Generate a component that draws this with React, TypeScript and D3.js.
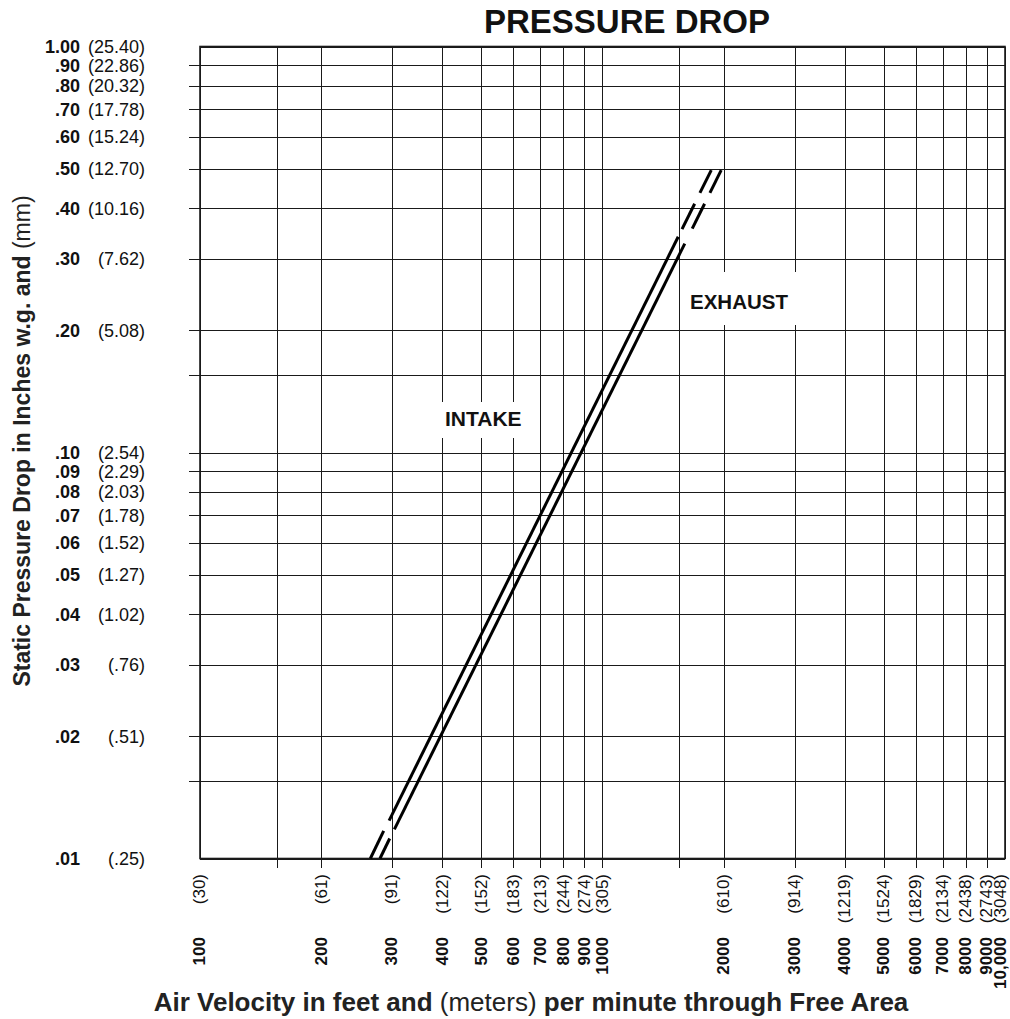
import React, { useEffect, useRef } from 'react';
import * as d3 from 'd3';

// x axis: air velocity, feet per minute, with metres per minute in brackets
const velocityTicks = [100, 200, 300, 400, 500, 600, 700, 800, 900, 1000, 2000, 3000, 4000, 5000, 6000, 7000, 8000, 9000, 10000];
const velocityLabels = ['100', '200', '300', '400', '500', '600', '700', '800', '900', '1000', '2000', '3000', '4000', '5000', '6000', '7000', '8000', '9000', '10,000'];
const meterLabels = ['(30)', '(61)', '(91)', '(122)', '(152)', '(183)', '(213)', '(244)', '(274)', '(305)', '(610)', '(914)', '(1219)', '(1524)', '(1829)', '(2134)', '(2438)', '(2743)', '(3048)'];
const velocityExtraGrid = [155, 1550];

// y axis: static pressure drop, inches w.g. with mm in brackets
const pressureTicks = [1, 0.9, 0.8, 0.7, 0.6, 0.5, 0.4, 0.3, 0.2, 0.1, 0.09, 0.08, 0.07, 0.06, 0.05, 0.04, 0.03, 0.02, 0.01];
const pressureLabels = ['1.00', '.90', '.80', '.70', '.60', '.50', '.40', '.30', '.20', '.10', '.09', '.08', '.07', '.06', '.05', '.04', '.03', '.02', '.01'];
const mmLabels = ['(25.40)', '(22.86)', '(20.32)', '(17.78)', '(15.24)', '(12.70)', '(10.16)', '(7.62)', '(5.08)', '(2.54)', '(2.29)', '(2.03)', '(1.78)', '(1.52)', '(1.27)', '(1.02)', '(.76)', '(.51)', '(.25)'];
const pressureExtraGrid = [0.155, 0.0155];

// curves, [velocity, pressure]
const intakeSolid: [number, number][] = [[295, 0.0124], [1542, 0.34]];
const intakeDashes: [number, number][][] = [
  [[265, 0.01], [286, 0.0117]],
  [[1576, 0.355], [1694, 0.41]],
  [[1746, 0.436], [1863, 0.496]],
];
const exhaustSolid: [number, number][] = [[304, 0.0118], [1601, 0.327]];
const exhaustDashes: [number, number][][] = [
  [[280, 0.01], [296, 0.0112]],
  [[1671, 0.356], [1793, 0.41]],
  [[1849, 0.436], [1972, 0.496]],
];

const FONT = "'Liberation Sans', Arial, Helvetica, sans-serif";

export default function App() {
  const svgRef = useRef<SVGSVGElement>(null);

  useEffect(() => {
    if (!svgRef.current) return;
    const width = 1010;
    const height = 1019;

    const svg = d3.select(svgRef.current);
    svg.selectAll('*').remove();
    svg.attr('width', width).attr('height', height);

    svg.append('rect').attr('width', width).attr('height', height).attr('fill', '#fff');

    const x = d3.scaleLog().domain([100, 10000]).range([200, 1005]);
    const y = d3.scaleLog().domain([0.01, 1]).range([858.5, 46.5]);
    const [x0, x1] = x.range();
    const [y0, y1] = y.range();

    const grid = svg.append('g').attr('stroke', '#1a1a1a').attr('stroke-width', 1).attr('shape-rendering', 'crispEdges');

    // vertical grid lines, ticks run below the frame
    [...velocityTicks, ...velocityExtraGrid].forEach(v => {
      const edge = v === 100 || v === 10000;
      grid.append('line')
        .attr('x1', Math.round(x(v)) + 0.5).attr('x2', Math.round(x(v)) + 0.5)
        .attr('y1', y1).attr('y2', edge ? y0 : y0 + 9);
    });

    // horizontal grid lines, ticks run left of the frame
    [...pressureTicks, ...pressureExtraGrid].forEach(p => {
      const edge = p === 1 || p === 0.01;
      grid.append('line')
        .attr('x1', edge ? x0 : x0 - 11).attr('x2', x1)
        .attr('y1', Math.round(y(p)) + 0.5).attr('y2', Math.round(y(p)) + 0.5);
    });

    // frame
    svg.append('rect')
      .attr('x', x0).attr('y', y1)
      .attr('width', x1 - x0).attr('height', y0 - y1)
      .attr('fill', 'none').attr('stroke', '#1a1a1a').attr('stroke-width', 1.6);

    // curves
    const line = d3.line<[number, number]>().x(d => x(d[0])).y(d => y(d[1]));
    const curves = svg.append('g').attr('fill', 'none').attr('stroke', '#000').attr('stroke-width', 3);
    [intakeSolid, exhaustSolid, ...intakeDashes, ...exhaustDashes].forEach(seg => {
      curves.append('path').attr('d', line(seg));
    });

    // curve labels on white patches
    svg.append('rect').attr('x', 438).attr('y', 402).attr('width', 92).attr('height', 36).attr('fill', '#fff');
    svg.append('rect').attr('x', 684).attr('y', 272).attr('width', 112).attr('height', 53).attr('fill', '#fff');
    svg.append('text').attr('x', 445).attr('y', 426).text('INTAKE')
      .style('font-family', FONT).style('font-weight', 'bold').style('font-size', '21px').attr('fill', '#111');
    svg.append('text').attr('x', 690).attr('y', 308.5).text('EXHAUST')
      .style('font-family', FONT).style('font-weight', 'bold').style('font-size', '20.5px').attr('fill', '#111');

    // y labels
    const yl = svg.append('g').style('font-family', FONT).style('font-size', '18px').attr('fill', '#111');
    pressureTicks.forEach((p, i) => {
      const ty = y(p) + 18 * 0.36;
      yl.append('text').attr('x', 80).attr('y', ty).attr('text-anchor', 'end')
        .style('font-weight', 'bold').text(pressureLabels[i]);
      yl.append('text').attr('x', 145).attr('y', ty).attr('text-anchor', 'end').text(mmLabels[i]);
    });

    // x labels, rotated; keep the last column inside the page
    const xfs = 17;
    const xl = svg.append('g').style('font-family', FONT).style('font-size', `${xfs}px`).attr('fill', '#111');
    velocityTicks.forEach((v, i) => {
      const tx = Math.min(x(v) + xfs * 0.32, width - 4);
      xl.append('text').attr('transform', `translate(${tx},874) rotate(-90)`)
        .attr('text-anchor', 'end').text(meterLabels[i]);
      xl.append('text').attr('transform', `translate(${tx},937) rotate(-90)`)
        .attr('text-anchor', 'end').style('font-weight', 'bold').text(velocityLabels[i]);
    });

    // titles
    svg.append('text').attr('x', 627).attr('y', 33).attr('text-anchor', 'middle')
      .style('font-family', FONT).style('font-weight', 'bold').style('font-size', '33px')
      .attr('fill', '#111').text('PRESSURE DROP');

    const xt = svg.append('text').attr('x', 531).attr('y', 1011).attr('text-anchor', 'middle')
      .style('font-family', FONT).style('font-size', '26px').attr('fill', '#222');
    xt.append('tspan').style('font-weight', 'bold').text('Air Velocity in feet and ');
    xt.append('tspan').text('(meters)');
    xt.append('tspan').style('font-weight', 'bold').text(' per minute through Free Area');

    const yt = svg.append('text').attr('transform', 'translate(30,441) rotate(-90)').attr('text-anchor', 'middle')
      .style('font-family', FONT).style('font-size', '23px').attr('fill', '#222');
    yt.append('tspan').style('font-weight', 'bold').text('Static Pressure Drop in Inches w.g. and ');
    yt.append('tspan').text('(mm)');
  }, []);

  return (
    <div style={{ position: 'absolute', left: 0, top: 0 }}>
      <svg ref={svgRef} style={{ display: 'block' }}></svg>
    </div>
  );
}
